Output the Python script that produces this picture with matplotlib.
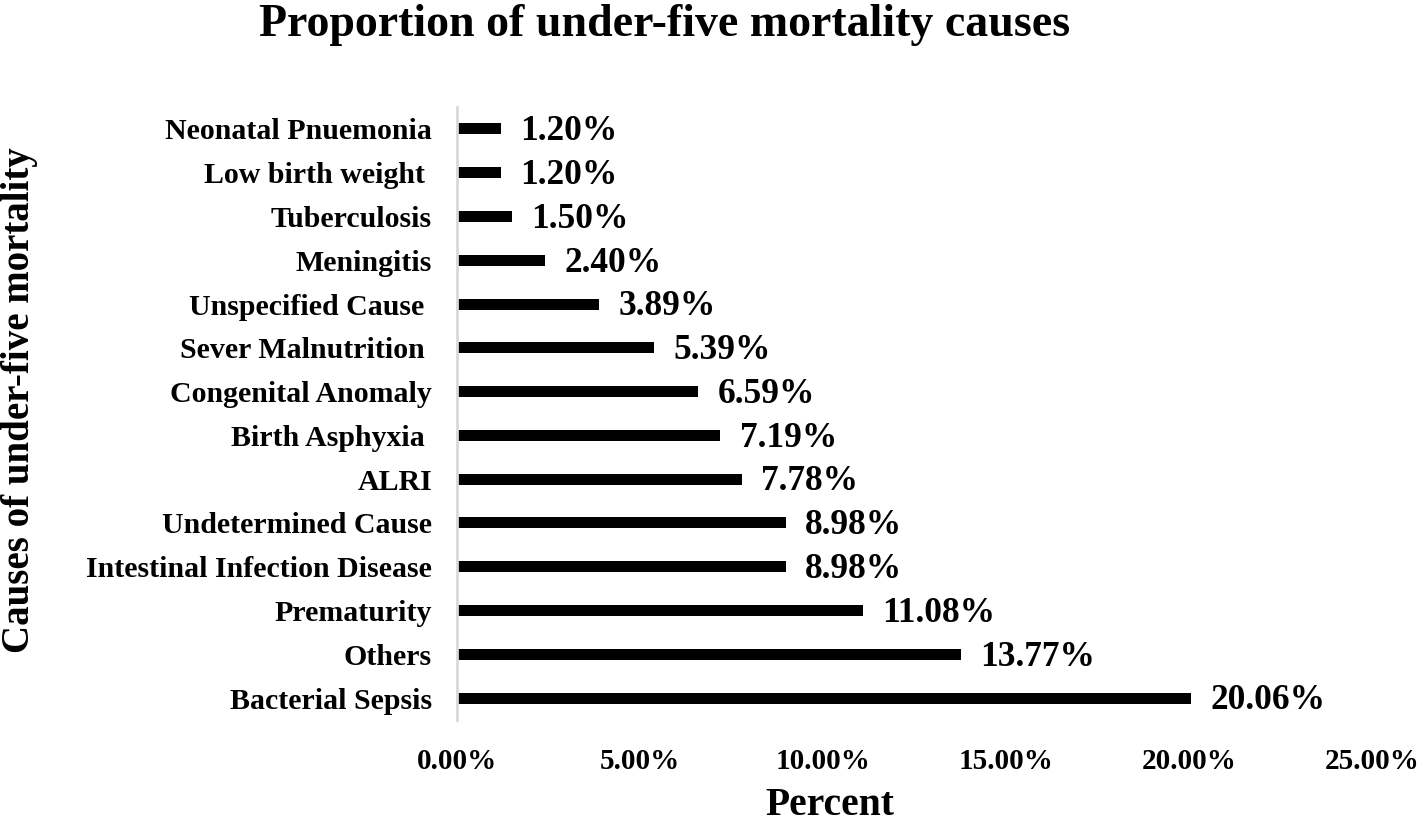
import matplotlib.pyplot as plt

causes = ["Bacterial Sepsis", "Others", "Prematurity", "Intestinal Infection Disease",
          "Undetermined Cause", "ALRI", "Birth Asphyxia ", "Congenital Anomaly",
          "Sever Malnutrition ", "Unspecified Cause ", "Meningitis", "Tuberculosis",
          "Low birth weight ", "Neonatal Pnuemonia"]
percent = [20.06, 13.77, 11.08, 8.98, 8.98, 7.78, 7.19, 6.59, 5.39, 3.89, 2.40, 1.50, 1.20, 1.20]
xticks = [0, 5, 10, 15, 20, 25]

plt.rcParams['font.family'] = ['Liberation Serif', 'DejaVu Serif']
plt.rcParams['font.weight'] = 'bold'

fig = plt.figure(figsize=(14.18, 8.25), dpi=100)
ax = fig.add_axes([0.3223, 0.1273, 0.6453, 0.743])

y = range(len(causes))
ax.barh(y, percent, height=0.25, color='black')
for yi, v in zip(y, percent):
    ax.annotate(f"{v:.2f}%", (v, yi), xytext=(14, -2), textcoords='offset points',
                ha='left', va='center', fontsize=25.5, fontweight='bold')

ax.set_xlim(0, 25)
ax.set_ylim(-0.5, len(causes) - 0.5)
ax.set_yticks(list(y))
ax.set_yticklabels(causes, fontsize=21.5, fontweight='bold')
ax.set_xticks(xticks)
ax.set_xticklabels([f"{t:.2f}%" for t in xticks], fontsize=21, fontweight='bold')
ax.tick_params(axis='y', length=0, pad=18)
ax.tick_params(axis='x', length=0, pad=20)

for s in ['top', 'right', 'bottom']:
    ax.spines[s].set_visible(False)
ax.spines['left'].set_color('#d9d9d9')
ax.spines['left'].set_linewidth(2)

fig.text(0.469, 0.97, "Proportion of under-five mortality causes", ha='center', va='center',
         fontsize=33, fontweight='bold')
fig.text(0.585, 0.024, "Percent", ha='center', va='center', fontsize=28.5, fontweight='bold')
fig.text(0.014, 0.515, "Causes of under-five mortality", ha='center', va='center',
         rotation=90, fontsize=28, fontweight='bold')

fig.savefig("out.png", dpi=100)
